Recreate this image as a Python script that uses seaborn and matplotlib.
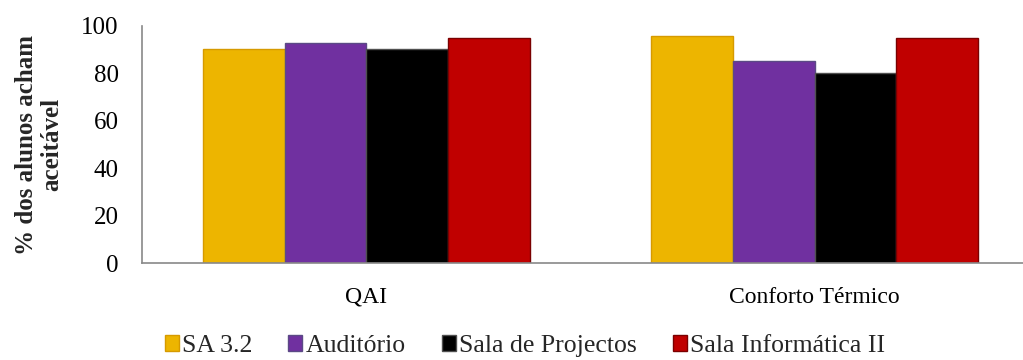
import matplotlib
matplotlib.use("Agg")
import matplotlib.pyplot as plt
import seaborn as sns
import pandas as pd

# Dados: percentagem de alunos que acham aceitável
categorias = ["QAI", "Conforto Térmico"]
salas = ["SA 3.2", "Auditório", "Sala de Projectos", "Sala Informática II"]
qai = [90.4, 92.8, 90.1, 94.9]
conforto = [95.6, 85.1, 80.2, 94.9]
yticks = [0, 20, 40, 60, 80, 100]

cores = ["#EDB500", "#7030A0", "#000000", "#C00000"]
bordas = ["#D69A00", "#5B4A85", "#505050", "#7A0000"]

df = pd.DataFrame({
    "categoria": [categorias[0]] * len(salas) + [categorias[1]] * len(salas),
    "sala": salas + salas,
    "valor": qai + conforto,
})

sns.set_theme(style="white")
plt.rcParams["font.family"] = ["Liberation Serif", "DejaVu Serif"]

fig = plt.figure(figsize=(10.23, 3.6), dpi=100)
ax = fig.add_axes([0.139, 0.2686, 0.861, 0.6594])

sns.barplot(data=df, x="categoria", y="valor", hue="sala", order=categorias,
            hue_order=salas, palette=cores, width=0.73, saturation=1,
            errorbar=None, ax=ax, legend=False)

for cont, borda in zip(ax.containers, bordas):
    for bar in cont:
        bar.set_edgecolor(borda)
        bar.set_linewidth(1.0)

ax.set_xlim(-0.5, 1.465)
ax.set_ylim(0, 100)
ax.set_yticks(yticks)
ax.set_yticklabels([str(t) for t in yticks])
ax.tick_params(axis="both", length=0, colors="black")
ax.tick_params(axis="y", pad=17, labelsize=18)
ax.tick_params(axis="x", pad=17, labelsize=17)
ax.set_xlabel("")
ax.set_ylabel("% dos alunos acham\naceitável", fontsize=18, fontweight="bold",
              labelpad=13, linespacing=1.1)

for side in ["top", "right"]:
    ax.spines[side].set_visible(False)
for side in ["left", "bottom"]:
    ax.spines[side].set_color("#898989")
    ax.spines[side].set_linewidth(1.2)

handles = [cont[0] for cont in ax.containers]
fig.legend(handles, salas, loc="center", bbox_to_anchor=(0.513, 0.038),
           ncol=4, frameon=False, fontsize=18.5, handlelength=0.55,
           handleheight=0.55, handletextpad=0.12, columnspacing=1.4,
           borderaxespad=0)

fig.savefig("out.png", dpi=100)
